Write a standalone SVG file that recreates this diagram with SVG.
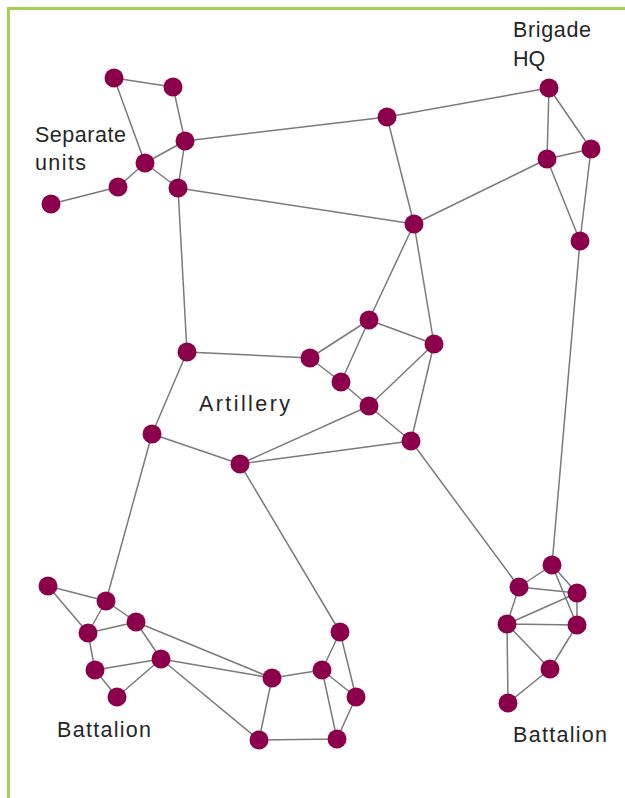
<svg xmlns="http://www.w3.org/2000/svg" width="625" height="798" viewBox="0 0 625 798">
<style>
.e{stroke:#7a7a7a;stroke-width:1.5;fill:none}
.n{fill:#8c004b}
.t{font-family:"Liberation Sans",Arial,sans-serif;font-size:21.5px;fill:#262626}
</style>
<defs><circle id="dot" r="9.5"/></defs>
<rect width="625" height="798" fill="#fff"/>
<path d="M8.5,798 V8.5 H625" stroke="#a2d150" stroke-width="3" fill="none"/>
<g id="connectors" class="e">
<path d="M114,78L173,87M114,78L145,163M173,87L185,141M185,141L145,163M185,141L178,188M145,163L178,188M145,163L118,187M118,187L51,204M185,141L387,117M178,188L414,224M178,188L187,352"/>
<path d="M387,117L549,88M387,117L414,224M549,88L547,159M549,88L591,149M547,159L591,149M547,159L580,241M591,149L580,241M547,159L414,224M580,241L552,565"/>
<path d="M414,224L369,320M414,224L434,344M369,320L310,358M369,320L434,344M369,320L341,382M310,358L187,352M310,358L341,382M341,382L369,406M369,406L434,344M434,344L411,441M369,406L411,441M369,406L240,464M240,464L411,441M187,352L152,434M152,434L240,464M152,434L106,601M240,464L340,632M411,441L519,587"/>
<path d="M48,586L106,601M48,586L88,633M106,601L88,633M106,601L136,622M88,633L136,622M136,622L161,659M136,622L272,678M88,633L95,670M95,670L161,659M95,670L117,697M117,697L161,659M161,659L272,678M161,659L259,740M272,678L322,670M272,678L259,740M259,740L337,739M322,670L340,632M340,632L356,697M322,670L356,697M322,670L337,739M356,697L337,739"/>
<path d="M552,565L519,587M552,565L577,593M552,565L577,625M519,587L577,593M519,587L507,624M507,624L577,593M507,624L577,625M577,593L577,625M507,624L550,669M577,625L550,669M507,624L508,703M508,703L550,669"/>
</g>
<g id="n-sep1" class="n"><use href="#dot" x="114" y="78"/></g>
<g id="n-sep2" class="n"><use href="#dot" x="173" y="87"/></g>
<g id="n-sep3" class="n"><use href="#dot" x="185" y="141"/></g>
<g id="n-sep4" class="n"><use href="#dot" x="145" y="163"/></g>
<g id="n-sep5" class="n"><use href="#dot" x="178" y="188"/></g>
<g id="n-sep6" class="n"><use href="#dot" x="118" y="187"/></g>
<g id="n-sep7" class="n"><use href="#dot" x="51" y="204"/></g>
<g id="n-top1" class="n"><use href="#dot" x="387" y="117"/></g>
<g id="n-hq" class="n"><use href="#dot" x="549" y="88"/></g>
<g id="n-hq2" class="n"><use href="#dot" x="547" y="159"/></g>
<g id="n-hq3" class="n"><use href="#dot" x="591" y="149"/></g>
<g id="n-hq4" class="n"><use href="#dot" x="580" y="241"/></g>
<g id="n-mid1" class="n"><use href="#dot" x="414" y="224"/></g>
<g id="n-art1" class="n"><use href="#dot" x="369" y="320"/></g>
<g id="n-art2" class="n"><use href="#dot" x="434" y="344"/></g>
<g id="n-art3" class="n"><use href="#dot" x="310" y="358"/></g>
<g id="n-art4" class="n"><use href="#dot" x="341" y="382"/></g>
<g id="n-art5" class="n"><use href="#dot" x="369" y="406"/></g>
<g id="n-art6" class="n"><use href="#dot" x="411" y="441"/></g>
<g id="n-art7" class="n"><use href="#dot" x="187" y="352"/></g>
<g id="n-art8" class="n"><use href="#dot" x="152" y="434"/></g>
<g id="n-art9" class="n"><use href="#dot" x="240" y="464"/></g>
<g id="n-bl1" class="n"><use href="#dot" x="48" y="586"/></g>
<g id="n-bl2" class="n"><use href="#dot" x="106" y="601"/></g>
<g id="n-bl3" class="n"><use href="#dot" x="136" y="622"/></g>
<g id="n-bl4" class="n"><use href="#dot" x="88" y="633"/></g>
<g id="n-bl5" class="n"><use href="#dot" x="161" y="659"/></g>
<g id="n-bl6" class="n"><use href="#dot" x="95" y="670"/></g>
<g id="n-bl7" class="n"><use href="#dot" x="117" y="697"/></g>
<g id="n-bm1" class="n"><use href="#dot" x="340" y="632"/></g>
<g id="n-bm2" class="n"><use href="#dot" x="322" y="670"/></g>
<g id="n-bm3" class="n"><use href="#dot" x="272" y="678"/></g>
<g id="n-bm4" class="n"><use href="#dot" x="356" y="697"/></g>
<g id="n-bm5" class="n"><use href="#dot" x="259" y="740"/></g>
<g id="n-bm6" class="n"><use href="#dot" x="337" y="739"/></g>
<g id="n-br1" class="n"><use href="#dot" x="552" y="565"/></g>
<g id="n-br2" class="n"><use href="#dot" x="519" y="587"/></g>
<g id="n-br3" class="n"><use href="#dot" x="577" y="593"/></g>
<g id="n-br4" class="n"><use href="#dot" x="507" y="624"/></g>
<g id="n-br5" class="n"><use href="#dot" x="577" y="625"/></g>
<g id="n-br6" class="n"><use href="#dot" x="550" y="669"/></g>
<g id="n-br7" class="n"><use href="#dot" x="508" y="703"/></g>
<g id="labels" class="t">
<text x="35" y="142" textLength="91" lengthAdjust="spacing">Separate</text>
<text x="35" y="170" textLength="51" lengthAdjust="spacing">units</text>
<text x="513" y="37" textLength="78" lengthAdjust="spacing">Brigade</text>
<text x="513" y="66">HQ</text>
<text x="199" y="411" textLength="91" lengthAdjust="spacing">Artillery</text>
<text x="57" y="737" textLength="94" lengthAdjust="spacing">Battalion</text>
<text x="513" y="742" textLength="94" lengthAdjust="spacing">Battalion</text>
</g>
</svg>
